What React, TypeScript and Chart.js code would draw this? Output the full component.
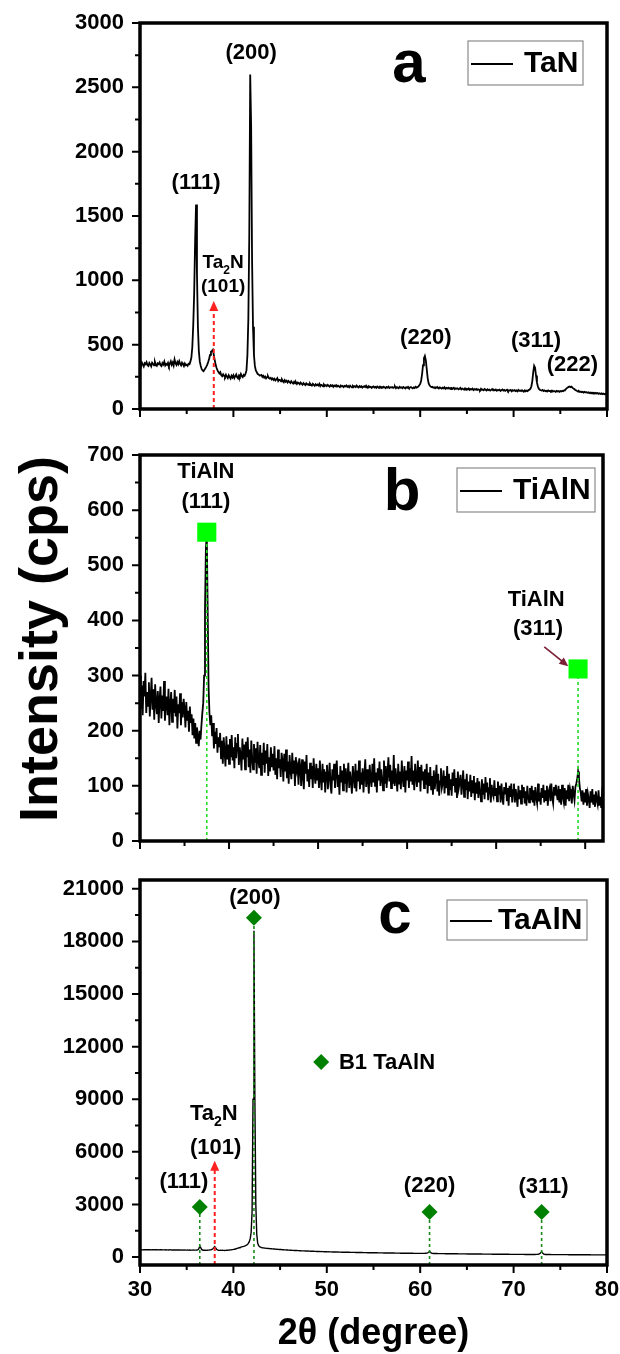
import React, { useEffect, useRef } from "react";
import { Chart, registerables } from "chart.js";

Chart.register(...registerables);

const FONT = '"Liberation Sans", Arial, Helvetica, sans-serif';

// 2θ sampling of the scans (degrees)
const ANGLE_START = 30;
const ANGLE_STEP = 0.1;

const xTickValues = [30, 40, 50, 60, 70, 80];

// ---------- (a) TaN ----------
const tanCounts = [
  352, 338, 361, 345, 330, 356, 348, 364, 341, 335,
  358, 347, 332, 360, 351, 339, 366, 344, 336, 355,
  349, 362, 340, 333, 357, 346, 368, 338, 350, 343,
  359, 335, 352, 370, 344, 361, 338, 385, 356, 342,
  365, 348, 372, 351, 339, 360, 347, 333, 354, 340,
  345, 336, 352, 348, 370, 400, 480, 650, 900, 1300,
  1590, 1050, 640, 450, 370, 335, 312, 300, 294, 305,
  316, 330, 345, 365, 390, 420, 445, 452, 460, 420,
  380, 345, 318, 300, 288, 276, 286, 262, 255, 270,
  258, 248, 266, 252, 240, 262, 249, 236, 258, 245,
  262, 240, 255, 268, 246, 238, 260, 250, 272, 255,
  248, 265, 258, 275, 300, 420, 700, 1350, 2600, 2200,
  1150, 640, 420, 335, 300, 286, 272, 268, 260, 262,
  265, 250, 258, 244, 252, 238, 247, 255, 240, 236,
  242, 230, 238, 226, 235, 222, 230, 240, 218, 228,
  226, 215, 230, 219, 208, 224, 212, 220, 206, 218,
  210, 202, 216, 205, 198, 212, 200, 208, 195, 206,
  200, 192, 205, 196, 188, 202, 194, 186, 199, 190,
  194, 185, 198, 188, 182, 196, 187, 180, 192, 184,
  190, 182, 195, 178, 188, 184, 176, 190, 181, 186,
  178, 188, 180, 174, 186, 179, 184, 172, 182, 177,
  185, 174, 181, 176, 170, 183, 175, 179, 171, 180,
  176, 183, 172, 178, 169, 181, 174, 168, 179, 173,
  177, 170, 182, 173, 167, 178, 171, 176, 166, 175,
  172, 179, 168, 174, 165, 177, 170, 173, 164, 171,
  176, 167, 172, 165, 175, 169, 163, 174, 168, 171,
  165, 173, 168, 162, 171, 166, 174, 163, 169, 167,
  171, 164, 168, 175, 162, 170, 166, 161, 172, 165,
  168, 162, 171, 166, 160, 169, 164, 172, 163, 167,
  170, 165, 161, 168, 163, 172, 166, 170, 175, 184,
  195, 220, 270, 340, 395, 412, 380, 310, 240, 200,
  185, 176, 170, 172, 165, 168, 162, 170, 164, 167,
  160, 168, 163, 158, 166, 161, 169, 157, 164, 160,
  166, 158, 163, 155, 162, 159, 165, 154, 161, 157,
  160, 153, 158, 164, 152, 159, 155, 150, 161, 154,
  157, 151, 160, 149, 155, 152, 158, 147, 154, 150,
  156, 148, 153, 150, 145, 157, 149, 152, 146, 155,
  150, 144, 153, 147, 151, 143, 149, 155, 145, 150,
  146, 152, 142, 148, 145, 150, 140, 147, 152, 143,
  148, 141, 146, 150, 139, 145, 143, 148, 138, 146,
  142, 147, 140, 145, 137, 148, 141, 144, 139, 146,
  140, 136, 145, 138, 143, 139, 147, 150, 158, 175,
  215, 285, 335, 320, 260, 205, 175, 158, 150, 146,
  143, 148, 140, 145, 138, 142, 136, 144, 139, 141,
  137, 143, 135, 140, 138, 133, 141, 136, 139, 134,
  140, 136, 142, 138, 144, 148, 155, 162, 168, 172,
  175, 170, 174, 166, 160, 155, 148, 145, 140, 136,
  138, 132, 135, 130, 134, 128, 133, 129, 131, 126,
  130, 124, 128, 122, 127, 123, 126, 120, 125, 121,
  124, 118, 122, 117, 121, 116, 120, 115, 119, 114,
  117,
];
const tanTicks = [0, 500, 1000, 1500, 2000, 2500, 3000];

// ---------- (b) TiAlN ----------
const tialnCounts = [
  300, 240, 282, 228, 290, 262, 305, 232, 270, 245,
  288, 226, 262, 296, 238, 275, 220, 284, 250, 230,
  272, 214, 258, 280, 222, 264, 236, 290, 218, 250,
  262, 228, 276, 210, 248, 270, 216, 258, 232, 274,
  226, 262, 204, 248, 232, 268, 210, 252, 224, 258,
  240, 206, 252, 218, 236, 198, 244, 214, 230, 192,
  222, 186, 214, 178, 206, 190, 172, 200, 184, 210,
  232, 250, 300, 420, 530, 556, 420, 280, 232, 210,
  228, 190, 214, 168, 198, 176, 205, 160, 188, 170,
  196, 150, 182, 140, 188, 162, 135, 190, 148, 175,
  140, 185, 152, 192, 146, 170, 132, 188, 150, 176,
  194, 138, 170, 156, 128, 186, 148, 175, 130, 180,
  152, 188, 134, 166, 124, 182, 150, 130, 176, 142,
  168, 122, 180, 146, 132, 174, 120, 160, 138, 178,
  124, 164, 140, 176, 118, 152, 126, 170, 134, 158,
  128, 172, 120, 150, 112, 166, 132, 148, 116, 160,
  146, 108, 158, 126, 166, 114, 144, 104, 156, 130,
  112, 160, 122, 146, 100, 152, 128, 136, 102, 150,
  134, 100, 148, 118, 94, 144, 122, 156, 108, 130,
  98, 142, 112, 136, 96, 150, 120, 104, 140, 110,
  132, 96, 146, 112, 92, 140, 106, 130, 88, 124,
  138, 94, 116, 142, 100, 86, 130, 110, 140, 96,
  124, 146, 98, 120, 84, 136, 106, 128, 92, 140,
  104, 132, 88, 118, 142, 96, 126, 108, 86, 136,
  116, 96, 140, 90, 128, 108, 146, 94, 124, 102,
  132, 88, 120, 148, 98, 130, 110, 86, 138, 112,
  98, 140, 106, 150, 100, 124, 88, 132, 110, 144,
  100, 130, 114, 92, 146, 104, 136, 96, 124, 152,
  108, 138, 96, 128, 104, 156, 100, 132, 112, 90,
  140, 104, 126, 94, 146, 114, 98, 136, 88, 128,
  110, 144, 96, 132, 108, 154, 102, 128, 92, 140,
  116, 98, 146, 106, 134, 90, 138, 110, 126, 96,
  130, 102, 140, 86, 124, 100, 134, 92, 118, 84,
  128, 94, 112, 138, 90, 122, 82, 108, 132, 96,
  104, 128, 86, 118, 96, 136, 84, 122, 92, 112,
  82, 124, 100, 130, 88, 114, 78, 126, 96, 106,
  120, 84, 104, 128, 80, 112, 92, 122, 76, 108,
  90, 120, 80, 110, 88, 118, 74, 106, 86, 114,
  78, 108, 92, 72, 112, 84, 104, 76, 116, 88,
  106, 74, 96, 114, 70, 102, 86, 80, 110, 82,
  96, 72, 108, 84, 100, 70, 104, 80, 66, 98,
  86, 106, 72, 96, 64, 100, 80, 104, 70, 92,
  104, 70, 94, 80, 62, 100, 76, 92, 68, 102,
  78, 98, 68, 90, 64, 100, 80, 70, 96, 74,
  100, 70, 92, 64, 98, 78, 68, 104, 72, 88,
  66, 96, 78, 102, 70, 92, 74, 100, 64, 90,
  96, 72, 104, 78, 68, 98, 82, 102, 86, 74,
  100, 70, 94, 66, 102, 80, 70, 96, 64, 92,
  76, 102, 72, 94, 84, 68, 100, 86, 74, 98,
  104, 112, 126, 114, 96, 88, 72, 92, 66, 88,
  70, 94, 64, 86, 76, 60, 90, 70, 94, 66,
  84, 62, 90, 74, 66, 92, 64, 80, 60, 86,
  76,
];
const tialnTicks = [0, 100, 200, 300, 400, 500, 600, 700];
const tialnMarkerAngles = [37.5, 79.2];
const tialnMarkerCounts = [560, 312];

// ---------- (c) TaAlN ----------
const taalnCounts = [
  420, 418, 425, 415, 422, 419, 416, 424, 418, 421,
  417, 423, 414, 420, 418, 412, 421, 416, 419, 413,
  418, 411, 416, 420, 410, 415, 412, 418, 409, 414,
  412, 408, 415, 410, 406, 413, 409, 404, 411, 407,
  405, 410, 402, 408, 400, 406, 403, 398, 405, 401,
  398, 404, 396, 401, 394, 399, 396, 402, 400, 398,
  400, 402, 420, 470, 640, 540, 440, 405, 392, 388,
  390, 386, 392, 396, 400, 410, 420, 440, 480, 540,
  600, 530, 450, 410, 392, 386, 390, 384, 388, 382,
  386, 380, 384, 388, 392, 398, 404, 410, 418, 428,
  438, 450, 462, 478, 495, 512, 530, 548, 565, 580,
  596, 610, 630, 650, 680, 720, 780, 880, 1050, 1400,
  2600, 9000, 18600, 9000, 3000, 1300, 800, 650, 600, 575,
  541, 532, 526, 518, 513, 505, 500, 494, 490, 483,
  480, 474, 470, 463, 460, 453, 451, 444, 442, 436,
  433, 430, 424, 422, 416, 414, 410, 405, 404, 399,
  397, 392, 391, 386, 385, 380, 379, 374, 373, 369,
  368, 363, 363, 358, 358, 353, 353, 348, 348, 344,
  344, 339, 339, 335, 335, 331, 331, 327, 327, 323,
  323, 319, 320, 315, 316, 312, 313, 308, 309, 305,
  304, 301, 303, 298, 296, 297, 293, 294, 290, 291,
  288, 289, 285, 286, 283, 284, 280, 281, 279, 277,
  278, 275, 276, 273, 274, 271, 272, 269, 270, 267,
  268, 265, 266, 263, 264, 261, 262, 259, 260, 258,
  258, 255, 256, 253, 254, 252, 252, 250, 250, 248,
  249, 246, 247, 245, 245, 243, 244, 241, 242, 240,
  240, 238, 239, 236, 237, 235, 235, 233, 234, 232,
  232, 230, 231, 229, 229, 227, 228, 226, 226, 224,
  225, 223, 223, 221, 222, 220, 220, 218, 219, 217,
  217, 216, 216, 214, 215, 213, 213, 212, 212, 211,
  210, 211, 212, 213, 214, 216, 220, 228, 245, 275,
  320, 280, 232, 212, 205, 203, 203, 202, 202, 200,
  201, 199, 199, 198, 198, 196, 197, 195, 195, 194,
  194, 193, 193, 191, 192, 190, 190, 189, 189, 188,
  188, 187, 187, 185, 186, 184, 185, 183, 183, 182,
  182, 181, 181, 180, 180, 178, 179, 177, 178, 176,
  176, 176, 175, 174, 174, 173, 173, 172, 172, 171,
  171, 170, 170, 169, 169, 168, 168, 167, 167, 166,
  166, 165, 165, 164, 164, 163, 163, 162, 162, 161,
  161, 161, 160, 160, 159, 159, 158, 158, 158, 157,
  157, 156, 156, 156, 155, 155, 154, 154, 154, 153,
  153, 153, 152, 152, 151, 151, 151, 150, 150, 150,
  150, 151, 151, 152, 153, 155, 160, 170, 195, 250,
  300, 240, 180, 155, 148, 146, 146, 146, 145, 145,
  145, 144, 144, 144, 143, 143, 143, 142, 142, 142,
  141, 141, 141, 140, 140, 140, 139, 139, 139, 138,
  138, 138, 137, 137, 137, 136, 136, 136, 135, 135,
  135, 134, 134, 134, 133, 133, 133, 132, 132, 132,
  131, 131, 131, 130, 130, 130, 129, 129, 129, 128,
  128, 128, 127, 127, 127, 126, 126, 126, 125, 125,
  125,
];
const taalnTicks = [0, 3000, 6000, 9000, 12000, 15000, 18000, 21000];
const b1Angles = [36.4, 42.2, 61.0, 73.0];
const b1Counts = [2850, 19350, 2570, 2570];

type Label = { text: string; x: number; y: number; size: number; ta2n?: boolean };

type PanelSpec = {
  top: number;
  height: number;
  pad: { left: number; right: number; top: number; bottom: number };
  counts: number[];
  xMax: number;
  yMin: number;
  yMax: number;
  yTicks: number[];
  showX: boolean;
  lineWidth: number;
  letter: string;
  letterPos: [number, number];
  legend: { text: string; left: number; top: number; w: number; h: number; textX: number };
  labels: Label[];
  ta2nArrow?: { x: number; top: number };
  markerAngles?: number[];
  markerCounts?: number[];
  markerStyle?: string;
  markerRadius?: number;
  markerColor?: string;
  markerLineColor?: string;
  pointer?: { x0: number; y0: number; x1: number; y1: number };
  b1Legend?: { x: number; y: number; textX: number };
};

const panels: PanelSpec[] = [
  {
    top: 0,
    height: 430,
    pad: { left: 0, right: 13, top: 23, bottom: 21 },
    counts: tanCounts,
    xMax: 80,
    yMin: 0,
    yMax: 3000,
    yTicks: tanTicks,
    showX: false,
    lineWidth: 1.8,
    letter: "a",
    letterPos: [269, 59],
    legend: { text: "TaN", left: 328, top: 18, w: 115, h: 44, textX: 56 },
    labels: [
      { text: "(111)", x: 36.0, y: 1758, size: 22 },
      { text: "(200)", x: 41.9, y: 2766, size: 22 },
      { text: "(220)", x: 60.6, y: 555, size: 22 },
      { text: "(311)", x: 72.4, y: 531, size: 22 },
      { text: "(222)", x: 76.3, y: 344, size: 22 },
      { text: "Ta2N", x: 38.9, y: 1133, size: 19, ta2n: true },
      { text: "(101)", x: 38.9, y: 953, size: 19 },
    ],
    ta2nArrow: { x: 37.9, top: 840 },
  },
  {
    top: 430,
    height: 430,
    pad: { left: 0, right: 17, top: 25, bottom: 19 },
    counts: tialnCounts,
    xMax: 82,
    yMin: 0,
    yMax: 700,
    yTicks: tialnTicks,
    showX: false,
    lineWidth: 1.8,
    letter: "b",
    letterPos: [262, 55],
    legend: { text: "TiAlN", left: 317, top: 13, w: 138, h: 44, textX: 56 },
    labels: [
      { text: "TiAlN", x: 37.4, y: 669, size: 22 },
      { text: "(111)", x: 37.4, y: 615, size: 22 },
      { text: "TiAlN", x: 74.5, y: 437, size: 22 },
      { text: "(311)", x: 74.7, y: 384, size: 22 },
    ],
    markerAngles: tialnMarkerAngles,
    markerCounts: tialnMarkerCounts,
    markerStyle: "rect",
    markerRadius: 13.5,
    markerColor: "#00ff00",
    markerLineColor: "#22dd22",
    pointer: { x0: 75.4, y0: 352, x1: 78.1, y1: 317 },
  },
  {
    top: 860,
    height: 494,
    pad: { left: 0, right: 13, top: 20, bottom: 0 },
    counts: taalnCounts,
    xMax: 80,
    yMin: -450,
    yMax: 21500,
    yTicks: taalnTicks,
    showX: true,
    lineWidth: 1.4,
    letter: "c",
    letterPos: [255, 53],
    legend: { text: "TaAlN", left: 307, top: 20, w: 140, h: 40, textX: 51 },
    labels: [
      { text: "(200)", x: 42.3, y: 20490, size: 22 },
      { text: "(111)", x: 34.7, y: 4300, size: 22 },
      { text: "(220)", x: 61.0, y: 4050, size: 22 },
      { text: "(311)", x: 73.2, y: 4000, size: 22 },
      { text: "Ta2N", x: 37.9, y: 8150, size: 22, ta2n: true },
      { text: "(101)", x: 38.1, y: 6200, size: 22 },
    ],
    ta2nArrow: { x: 38.0, top: 5500 },
    markerAngles: b1Angles,
    markerCounts: b1Counts,
    markerStyle: "rectRot",
    markerRadius: 8,
    markerColor: "#008000",
    markerLineColor: "#1a8a1a",
    b1Legend: { x: 49.4, y: 11130, textX: 51.3 },
  },
];

const bold = (size: number) => `bold ${size}px ${FONT}`;

function drawTa2N(ctx: CanvasRenderingContext2D, cx: number, cy: number, size: number) {
  const sub = Math.round(size * 0.62);
  ctx.font = bold(size);
  const wTa = ctx.measureText("Ta").width;
  const wN = ctx.measureText("N").width;
  ctx.font = bold(sub);
  const w2 = ctx.measureText("2").width;
  const x0 = cx - (wTa + w2 + wN) / 2;
  ctx.textAlign = "left";
  ctx.textBaseline = "middle";
  ctx.font = bold(size);
  ctx.fillText("Ta", x0, cy);
  ctx.font = bold(sub);
  ctx.fillText("2", x0 + wTa, cy + size * 0.38);
  ctx.font = bold(size);
  ctx.fillText("N", x0 + wTa + w2, cy);
}

function makeDecor(p: PanelSpec) {
  return {
    id: "xrdDecor",
    afterDraw(chart: any) {
      const { ctx, chartArea: ca, scales } = chart;
      const xs = scales.x;
      const ys = scales.y;
      ctx.save();

      // dashed red Ta2N arrow
      if (p.ta2nArrow) {
        const px = xs.getPixelForValue(p.ta2nArrow.x);
        const pTop = ys.getPixelForValue(p.ta2nArrow.top);
        ctx.strokeStyle = "#ff2020";
        ctx.fillStyle = "#ff2020";
        ctx.lineWidth = 2;
        ctx.setLineDash([4, 3]);
        ctx.beginPath();
        ctx.moveTo(px, ca.bottom);
        ctx.lineTo(px, pTop + 8);
        ctx.stroke();
        ctx.setLineDash([]);
        ctx.beginPath();
        ctx.moveTo(px, pTop);
        ctx.lineTo(px - 4.5, pTop + 10);
        ctx.lineTo(px + 4.5, pTop + 10);
        ctx.closePath();
        ctx.fill();
      }

      // maroon pointer arrow
      if (p.pointer) {
        const x0 = xs.getPixelForValue(p.pointer.x0);
        const y0 = ys.getPixelForValue(p.pointer.y0);
        const x1 = xs.getPixelForValue(p.pointer.x1);
        const y1 = ys.getPixelForValue(p.pointer.y1);
        const ang = Math.atan2(y1 - y0, x1 - x0);
        ctx.strokeStyle = "#7a1f35";
        ctx.fillStyle = "#7a1f35";
        ctx.lineWidth = 1.6;
        ctx.beginPath();
        ctx.moveTo(x0, y0);
        ctx.lineTo(x1 - 6 * Math.cos(ang), y1 - 6 * Math.sin(ang));
        ctx.stroke();
        ctx.beginPath();
        ctx.moveTo(x1, y1);
        ctx.lineTo(x1 - 9 * Math.cos(ang) + 4 * Math.sin(ang), y1 - 9 * Math.sin(ang) - 4 * Math.cos(ang));
        ctx.lineTo(x1 - 9 * Math.cos(ang) - 4 * Math.sin(ang), y1 - 9 * Math.sin(ang) + 4 * Math.cos(ang));
        ctx.closePath();
        ctx.fill();
      }

      // frame
      ctx.strokeStyle = "#000";
      ctx.lineWidth = 3.5;
      ctx.strokeRect(ca.left, ca.top, ca.right - ca.left, ca.bottom - ca.top);

      // outward ticks (major + minor)
      ctx.lineWidth = 2;
      ctx.beginPath();
      for (let v = ANGLE_START; v <= p.xMax; v += 5) {
        const px = xs.getPixelForValue(v);
        const len = v % 10 === 0 ? 8 : 5;
        ctx.moveTo(px, ca.bottom);
        ctx.lineTo(px, ca.bottom + len);
      }
      const yStep = (p.yTicks[1] - p.yTicks[0]) / 2;
      const yLast = p.yTicks[p.yTicks.length - 1];
      for (let k = 0; p.yTicks[0] + k * yStep <= yLast; k++) {
        const py = ys.getPixelForValue(p.yTicks[0] + k * yStep);
        const len = k % 2 === 0 ? 8 : 5;
        ctx.moveTo(ca.left, py);
        ctx.lineTo(ca.left - len, py);
      }
      ctx.stroke();

      // peak labels
      ctx.fillStyle = "#000";
      for (const l of p.labels) {
        const px = xs.getPixelForValue(l.x);
        const py = ys.getPixelForValue(l.y);
        if (l.ta2n) {
          drawTa2N(ctx, px, py, l.size);
        } else {
          ctx.font = bold(l.size);
          ctx.textAlign = "center";
          ctx.textBaseline = "middle";
          ctx.fillText(l.text, px, py);
        }
      }

      // B1 TaAlN symbol key
      if (p.b1Legend) {
        const px = xs.getPixelForValue(p.b1Legend.x);
        const py = ys.getPixelForValue(p.b1Legend.y);
        ctx.fillStyle = p.markerColor || "#008000";
        ctx.beginPath();
        ctx.moveTo(px, py - 8);
        ctx.lineTo(px + 8, py);
        ctx.lineTo(px, py + 8);
        ctx.lineTo(px - 8, py);
        ctx.closePath();
        ctx.fill();
        ctx.fillStyle = "#000";
        ctx.font = bold(22);
        ctx.textAlign = "left";
        ctx.textBaseline = "middle";
        ctx.fillText("B1 TaAlN", xs.getPixelForValue(p.b1Legend.textX), py + 1);
      }

      // big panel letter
      ctx.font = bold(60);
      ctx.textAlign = "center";
      ctx.textBaseline = "alphabetic";
      ctx.fillText(p.letter, ca.left + p.letterPos[0], ca.top + p.letterPos[1]);

      // legend box
      const lg = p.legend;
      const bx = ca.left + lg.left;
      const by = ca.top + lg.top;
      ctx.strokeStyle = "#8a8a8a";
      ctx.lineWidth = 1.2;
      ctx.strokeRect(bx, by, lg.w, lg.h);
      ctx.strokeStyle = "#000";
      ctx.lineWidth = 2;
      ctx.beginPath();
      ctx.moveTo(bx + 3, by + lg.h / 2 + 1);
      ctx.lineTo(bx + 45, by + lg.h / 2 + 1);
      ctx.stroke();
      ctx.font = bold(30);
      ctx.textAlign = "left";
      ctx.textBaseline = "middle";
      ctx.fillText(lg.text, bx + lg.textX, by + lg.h / 2 + 1);

      ctx.restore();
    },
  };
}

function buildConfig(p: PanelSpec): any {
  const scan = p.counts.map((c, i) => ({ x: +(ANGLE_START + i * ANGLE_STEP).toFixed(2), y: c }));
  const datasets: any[] = [
    {
      data: scan,
      borderColor: "#000",
      borderWidth: p.lineWidth,
      pointRadius: 0,
      tension: 0,
      fill: false,
      order: 3,
    },
  ];
  if (p.markerAngles && p.markerCounts) {
    p.markerAngles.forEach((a, i) => {
      datasets.push({
        data: [
          { x: a, y: p.yMin },
          { x: a, y: p.markerCounts![i] },
        ],
        borderColor: p.markerLineColor,
        borderWidth: 1.6,
        borderDash: [3, 3],
        pointRadius: 0,
        fill: false,
        order: 2,
      });
    });
    datasets.push({
      data: p.markerAngles.map((a, i) => ({ x: a, y: p.markerCounts![i] })),
      showLine: false,
      pointStyle: p.markerStyle,
      pointRadius: p.markerRadius,
      pointBackgroundColor: p.markerColor,
      pointBorderColor: p.markerColor,
      pointBorderWidth: 0,
      order: 1,
    });
  }

  return {
    type: "line",
    data: { datasets },
    plugins: [makeDecor(p)],
    options: {
      animation: false,
      responsive: false,
      events: [],
      layout: { padding: p.pad },
      plugins: { legend: { display: false }, tooltip: { enabled: false } },
      scales: {
        x: {
          type: "linear",
          min: ANGLE_START,
          max: p.xMax,
          grid: { display: false, drawTicks: false },
          border: { display: false },
          afterBuildTicks: (s: any) => {
            s.ticks = xTickValues.map((v) => ({ value: v }));
          },
          afterFit: (s: any) => {
            s.height = p.showX ? 89 : 0;
          },
          ticks: {
            display: p.showX,
            padding: 0,
            color: "#000",
            font: { family: FONT, size: 22, weight: "bold", lineHeight: 2.3 },
            callback: (v: any) => String(v),
            maxRotation: 0,
            autoSkip: false,
          },
          title: {
            display: p.showX,
            text: "2θ (degree)",
            color: "#000",
            font: { family: FONT, size: 36, weight: "bold", lineHeight: 1 },
            padding: { top: 0, bottom: 2 },
          },
        },
        y: {
          type: "linear",
          min: p.yMin,
          max: p.yMax,
          grid: { display: false, drawTicks: false },
          border: { display: false },
          afterBuildTicks: (s: any) => {
            s.ticks = p.yTicks.map((v) => ({ value: v }));
          },
          afterFit: (s: any) => {
            s.width = 140;
          },
          ticks: {
            padding: 16,
            color: "#000",
            font: { family: FONT, size: 22, weight: "bold", lineHeight: 0.1 },
            callback: (v: any) => String(v),
            autoSkip: false,
          },
        },
      },
    },
  };
}

function PanelChart({ spec }: { spec: PanelSpec }) {
  const ref = useRef<HTMLCanvasElement>(null);
  useEffect(() => {
    if (!ref.current) return;
    const chart = new Chart(ref.current, buildConfig(spec));
    return () => chart.destroy();
  }, [spec]);
  return (
    <canvas
      ref={ref}
      width={620}
      height={spec.height}
      style={{ position: "absolute", left: 0, top: spec.top, width: 620, height: spec.height }}
    />
  );
}

export default function App() {
  return (
    <div
      style={{
        position: "absolute",
        left: 0,
        top: 0,
        width: 620,
        height: 1354,
        background: "#fff",
        overflow: "hidden",
      }}
    >
      {panels.map((p, i) => (
        <PanelChart key={i} spec={p} />
      ))}
      <div
        style={{
          position: "absolute",
          left: 38,
          top: 639,
          transform: "translate(-50%, -50%) rotate(-90deg)",
          font: `bold 54px ${FONT}`,
          lineHeight: 1,
          whiteSpace: "nowrap",
          color: "#000",
        }}
      >
        Intensity (cps)
      </div>
    </div>
  );
}
